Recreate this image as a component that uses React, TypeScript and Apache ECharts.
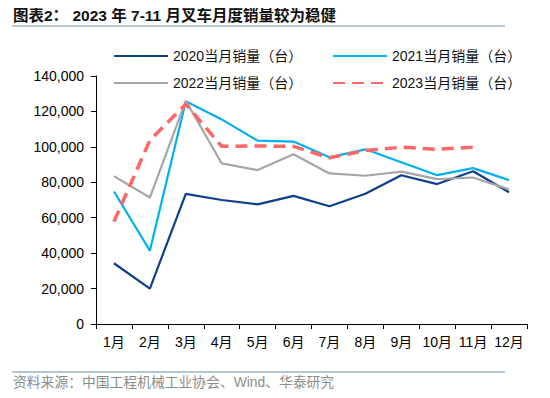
import React, { useEffect, useRef } from "react";
import * as echarts from "echarts";

const months = ["1月", "2月", "3月", "4月", "5月", "6月", "7月", "8月", "9月", "10月", "11月", "12月"];
const s2020 = [34300, 20000, 73500, 70000, 67500, 72300, 66500, 73500, 84000, 79000, 86200, 74400];
const s2021 = [74800, 41400, 125800, 115500, 103500, 103000, 94100, 98600, 91300, 84000, 88000, 81200];
const s2022 = [83500, 71400, 126000, 90700, 86900, 95800, 85000, 83700, 86000, 81800, 82700, 76000];
const s2023 = [57800, 103700, 124100, 100300, 100500, 100300, 93800, 97900, 99800, 98600, 99800];
const names = ["2020当月销量（台）", "2021当月销量（台）", "2022当月销量（台）", "2023当月销量（台）"];
const colors = ["#0E3F8A", "#00B0F0", "#A6A6A6", "#FF6666"];
const yTicks = [0, 20000, 40000, 60000, 80000, 100000, 120000, 140000];

const FONT = "'Liberation Sans', Arial, 'Noto Sans CJK SC', sans-serif";

export default function App() {
  const ref = useRef<HTMLDivElement>(null);
  useEffect(() => {
    if (!ref.current) return;
    const chart = echarts.init(ref.current, undefined, { renderer: "svg" });
    const legendPos = [
      { left: 113, top: 49 },
      { left: 332, top: 49 },
      { left: 113, top: 76 },
      { left: 332, top: 76 },
    ];
    const data = [s2020, s2021, s2022, s2023];
    chart.setOption({
      animation: false,
      backgroundColor: "#fff",
      textStyle: { fontFamily: FONT },
      legend: names.map((n, i) => ({
        data: [n],
        left: legendPos[i].left,
        top: legendPos[i].top,
        itemWidth: 54,
        itemHeight: 14,
        itemGap: 6,
        padding: 0,
        itemStyle: { opacity: 0 },
        textStyle: { fontSize: 14, color: "#111", fontFamily: FONT },
      })),
      grid: { left: 96, right: 23, top: 76, bottom: 74, containLabel: false },
      xAxis: {
        type: "category",
        data: months,
        boundaryGap: true,
        axisLine: { show: true, lineStyle: { color: "#000", width: 1 } },
        axisTick: { show: true, interval: 0, length: 5, lineStyle: { color: "#000" } },
        axisLabel: { color: "#000", fontSize: 14, margin: 11, interval: 0, fontFamily: FONT },
      },
      yAxis: {
        type: "value",
        min: yTicks[0],
        max: yTicks[yTicks.length - 1],
        interval: 20000,
        axisLine: { show: true, lineStyle: { color: "#000", width: 1 } },
        axisTick: { show: true, length: 5, lineStyle: { color: "#000" } },
        splitLine: { show: false },
        axisLabel: {
          color: "#000",
          fontSize: 14,
          margin: 12,
          fontFamily: FONT,
          formatter: (v: number) => v.toLocaleString("en-US"),
        },
      },
      series: names.map((n, i) => ({
        name: n,
        type: "line",
        data: data[i],
        symbol: "none",
        showSymbol: false,
        color: colors[i],
        lineStyle: {
          color: colors[i],
          width: i === 3 ? 3.5 : 2.2,
          type: i === 3 ? [12, 7] : "solid",
        },
        z: i === 3 ? 5 : 2 + i,
      })),
      graphic: [
        {
          type: "text",
          left: 13,
          top: 8,
          style: {
            text: "图表2： 2023 年 7-11 月叉车月度销量较为稳健",
            font: `bold 15.5px ${FONT}`,
            fill: "#111",
          },
        },
        {
          type: "line",
          shape: { x1: 12, y1: 26, x2: 505, y2: 26 },
          style: { stroke: "#9BB3D0", lineWidth: 1.5 },
        },
        {
          type: "line",
          shape: { x1: 12, y1: 372, x2: 505, y2: 372 },
          style: { stroke: "#9BB3D0", lineWidth: 1.5 },
        },
        {
          type: "text",
          left: 13,
          top: 376,
          style: {
            text: "资料来源：中国工程机械工业协会、Wind、华泰研究",
            font: `13.8px ${FONT}`,
            fill: "#8C8C8C",
          },
        },
      ],
    });
    return () => chart.dispose();
  }, []);
  return <div ref={ref} style={{ width: 550, height: 398, margin: -8 }} />;
}
